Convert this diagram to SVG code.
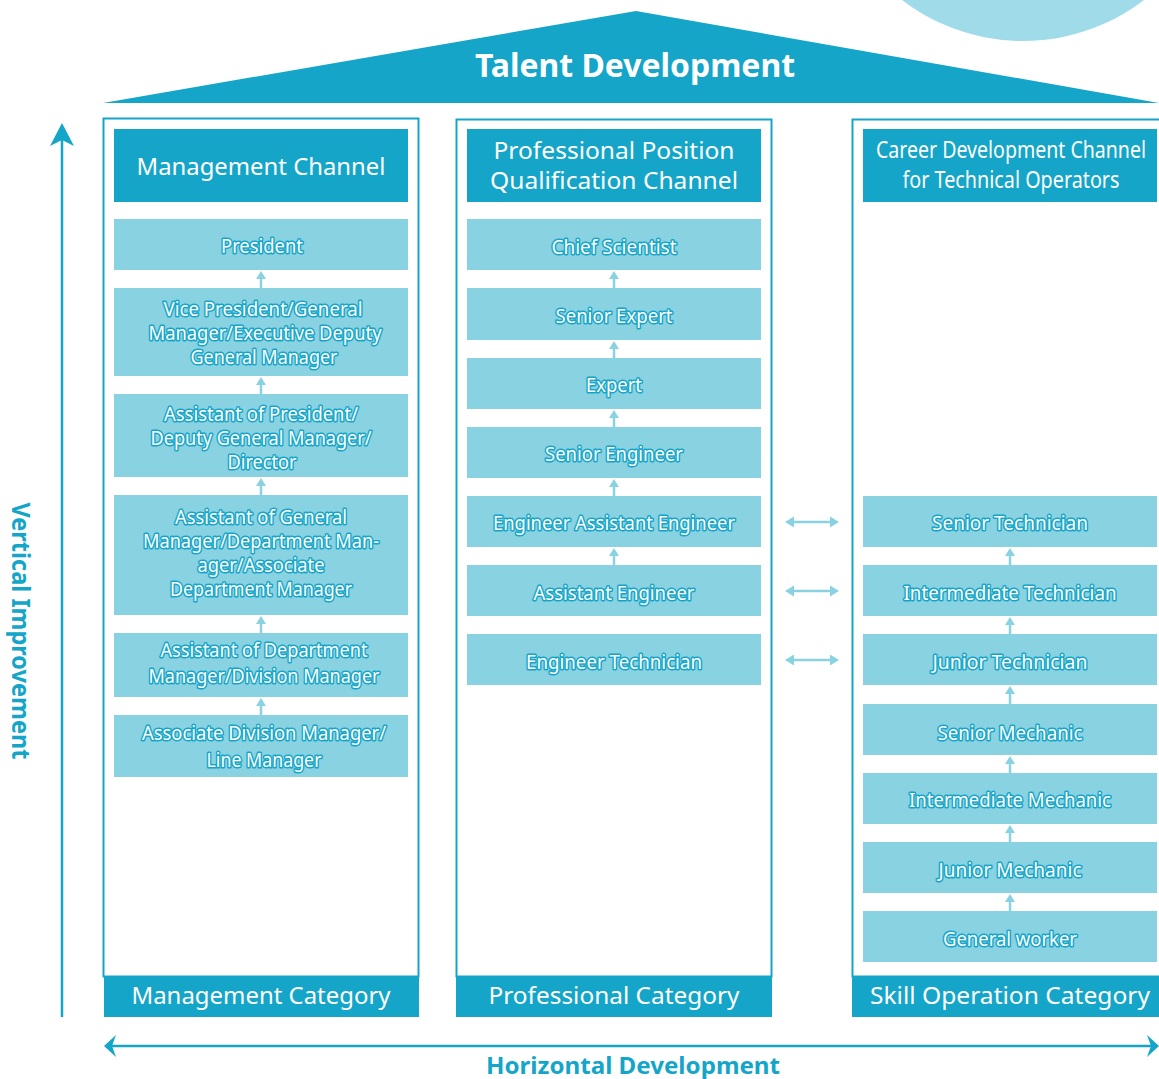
<svg xmlns="http://www.w3.org/2000/svg" width="1159" height="1079" viewBox="0 0 1159 1079">
<style>
.dark{fill:#14a5c8}
.light{fill:#88d2e2}
.col{fill:none;stroke:#14a5c8;stroke-width:2}
.hdr{font-family:"Noto Sans","Open Sans",sans-serif;fill:#fff;text-anchor:middle;font-size:24px}
.lbl{font-family:"Noto Sans","Open Sans",sans-serif;fill:#fff;stroke:#14a5c8;stroke-width:3;paint-order:stroke;stroke-linejoin:round;text-anchor:middle;font-size:19px}
.big{font-family:"Noto Sans","Open Sans",sans-serif;font-weight:bold;text-anchor:middle}
.up{stroke:#88d2e2;stroke-width:2.5;fill:none}
.uph{fill:#88d2e2}
</style>

<circle cx="1023" cy="-158" r="199" fill="#9fdbe8"/>

<g id="roof">
<polygon points="103,103 636,11 1159,103" class="dark"/>
<text x="635" y="77" class="big" font-size="32" fill="#fff" textLength="320" lengthAdjust="spacingAndGlyphs">Talent Development</text>
</g>

<g id="axes">
<line x1="62" y1="1017" x2="62" y2="140" stroke="#14a5c8" stroke-width="2.5"/>
<path d="M62,123 L74,146 L62,140 L50,146 Z" class="dark"/>
<line x1="112" y1="1046" x2="1152" y2="1046" stroke="#14a5c8" stroke-width="2.5"/>
<path d="M104,1046 L116,1035 L112,1046 L116,1057 Z" class="dark"/>
<path d="M1159,1046 L1147,1035 L1151,1046 L1147,1057 Z" class="dark"/>
<text x="633" y="1074" class="big" font-size="24" fill="#14a5c8" textLength="294" lengthAdjust="spacingAndGlyphs">Horizontal Development</text>
<text transform="translate(12,631) rotate(90)" x="0" y="0" class="big" font-size="25" fill="#14a5c8" textLength="257" lengthAdjust="spacingAndGlyphs">Vertical Improvement</text>
</g>

<!-- Column 1 -->
<g id="col-management">
<rect x="103.5" y="118.5" width="315" height="858" class="col"/>
<rect x="104" y="977" width="315" height="40" class="dark"/>
<text x="261" y="1004" class="hdr" textLength="259" lengthAdjust="spacingAndGlyphs">Management Category</text>
<rect x="114" y="129" width="294" height="73" class="dark"/>
<text x="261" y="175" class="hdr" font-size="25" textLength="249" lengthAdjust="spacingAndGlyphs">Management Channel</text>
</g>
<g id="m1"><rect x="114" y="219" width="294" height="51" class="light"/><text x="262" y="253" class="lbl" textLength="82" lengthAdjust="spacingAndGlyphs">President</text></g>
<g id="m2"><rect x="114" y="288" width="294" height="88" class="light"/>
<text x="263" y="316" class="lbl" textLength="199" lengthAdjust="spacingAndGlyphs">Vice President/General</text>
<text x="265" y="340" class="lbl" textLength="233" lengthAdjust="spacingAndGlyphs">Manager/Executive Deputy</text>
<text x="264" y="364" class="lbl" textLength="147" lengthAdjust="spacingAndGlyphs">General Manager</text></g>
<g id="m3"><rect x="114" y="394" width="294" height="83" class="light"/>
<text x="261" y="421" class="lbl" textLength="194" lengthAdjust="spacingAndGlyphs">Assistant of President/</text>
<text x="261" y="445" class="lbl" textLength="221" lengthAdjust="spacingAndGlyphs">Deputy General Manager/</text>
<text x="262" y="469" class="lbl" textLength="69" lengthAdjust="spacingAndGlyphs">Director</text></g>
<g id="m4"><rect x="114" y="495" width="294" height="120" class="light"/>
<text x="261" y="524" class="lbl" textLength="172" lengthAdjust="spacingAndGlyphs">Assistant of General</text>
<text x="261" y="548" class="lbl" textLength="236" lengthAdjust="spacingAndGlyphs">Manager/Department Man-</text>
<text x="261" y="572" class="lbl" textLength="127" lengthAdjust="spacingAndGlyphs">ager/Associate</text>
<text x="261" y="596" class="lbl" textLength="182" lengthAdjust="spacingAndGlyphs">Department Manager</text></g>
<g id="m5"><rect x="114" y="633" width="294" height="64" class="light"/>
<text x="264" y="657" class="lbl" textLength="207" lengthAdjust="spacingAndGlyphs">Assistant of Department</text>
<text x="264" y="683" class="lbl" textLength="231" lengthAdjust="spacingAndGlyphs">Manager/Division Manager</text></g>
<g id="m6"><rect x="114" y="715" width="294" height="62" class="light"/>
<text x="264" y="740" class="lbl" textLength="244" lengthAdjust="spacingAndGlyphs">Associate Division Manager/</text>
<text x="264" y="767" class="lbl" textLength="115" lengthAdjust="spacingAndGlyphs">Line Manager</text></g>

<!-- Column 2 -->
<g id="col-professional">
<rect x="456.5" y="119.5" width="315" height="857" class="col"/>
<rect x="456" y="977" width="316" height="40" class="dark"/>
<text x="614" y="1004" class="hdr" textLength="251" lengthAdjust="spacingAndGlyphs">Professional Category</text>
<rect x="467" y="129" width="294" height="73" class="dark"/>
<text x="614" y="159" class="hdr" font-size="23" textLength="241" lengthAdjust="spacingAndGlyphs">Professional Position</text>
<text x="614" y="189" class="hdr" font-size="23" textLength="248" lengthAdjust="spacingAndGlyphs">Qualification Channel</text>
</g>
<g id="p1"><rect x="467" y="219" width="294" height="51" class="light"/><text x="614" y="254" class="lbl" textLength="125" lengthAdjust="spacingAndGlyphs">Chief Scientist</text></g>
<g id="p2"><rect x="467" y="288" width="294" height="52" class="light"/><text x="614" y="323" class="lbl" textLength="117" lengthAdjust="spacingAndGlyphs">Senior Expert</text></g>
<g id="p3"><rect x="467" y="358" width="294" height="51" class="light"/><text x="614" y="392" class="lbl" textLength="56" lengthAdjust="spacingAndGlyphs">Expert</text></g>
<g id="p4"><rect x="467" y="427" width="294" height="51" class="light"/><text x="614" y="461" class="lbl" textLength="138" lengthAdjust="spacingAndGlyphs">Senior Engineer</text></g>
<g id="p5"><rect x="467" y="496" width="294" height="51" class="light"/><text x="614" y="530" class="lbl" textLength="242" lengthAdjust="spacingAndGlyphs">Engineer Assistant Engineer</text></g>
<g id="p6"><rect x="467" y="565" width="294" height="51" class="light"/><text x="614" y="600" class="lbl" textLength="161" lengthAdjust="spacingAndGlyphs">Assistant Engineer</text></g>
<g id="p7"><rect x="467" y="634" width="294" height="51" class="light"/><text x="614" y="669" class="lbl" textLength="176" lengthAdjust="spacingAndGlyphs">Engineer Technician</text></g>

<!-- Column 3 -->
<g id="col-skill">
<path d="M1160,119.5 H852.5 V976.5 H1160" class="col"/>
<rect x="852" y="977" width="307" height="40" class="dark"/>
<text x="1010" y="1004" class="hdr" textLength="280" lengthAdjust="spacingAndGlyphs">Skill Operation Category</text>
<rect x="863" y="129" width="294" height="73" class="dark"/>
<text x="1011" y="158" class="hdr" font-size="20" textLength="270" lengthAdjust="spacingAndGlyphs">Career Development Channel</text>
<text x="1011" y="188" class="hdr" font-size="20" textLength="217" lengthAdjust="spacingAndGlyphs">for Technical Operators</text>
</g>
<g id="s1"><rect x="863" y="496" width="294" height="51" class="light"/><text x="1010" y="530" class="lbl" textLength="156" lengthAdjust="spacingAndGlyphs">Senior Technician</text></g>
<g id="s2"><rect x="863" y="565" width="294" height="51" class="light"/><text x="1010" y="600" class="lbl" textLength="213" lengthAdjust="spacingAndGlyphs">Intermediate Technician</text></g>
<g id="s3"><rect x="863" y="634" width="294" height="51" class="light"/><text x="1010" y="669" class="lbl" textLength="155" lengthAdjust="spacingAndGlyphs">Junior Technician</text></g>
<g id="s4"><rect x="863" y="704" width="294" height="51" class="light"/><text x="1010" y="740" class="lbl" textLength="145" lengthAdjust="spacingAndGlyphs">Senior Mechanic</text></g>
<g id="s5"><rect x="863" y="773" width="294" height="51" class="light"/><text x="1010" y="807" class="lbl" textLength="202" lengthAdjust="spacingAndGlyphs">Intermediate Mechanic</text></g>
<g id="s6"><rect x="863" y="842" width="294" height="51" class="light"/><text x="1010" y="877" class="lbl" textLength="143" lengthAdjust="spacingAndGlyphs">Junior Mechanic</text></g>
<g id="s7"><rect x="863" y="911" width="294" height="51" class="light"/><text x="1010" y="946" class="lbl" textLength="134" lengthAdjust="spacingAndGlyphs">General worker</text></g>

<g id="connectors">
<g class="uph">
<path d="M261,271 L266,279 L256,279 Z"/><path d="M261,377 L266,385 L256,385 Z"/><path d="M261,478 L266,486 L256,486 Z"/><path d="M261,616 L266,624 L256,624 Z"/><path d="M261,698 L266,706 L256,706 Z"/>
<path d="M614,271 L619,279 L609,279 Z"/><path d="M614,341 L619,349 L609,349 Z"/><path d="M614,410 L619,418 L609,418 Z"/><path d="M614,479 L619,487 L609,487 Z"/><path d="M614,548 L619,556 L609,556 Z"/>
<path d="M1010,548 L1015,556 L1005,556 Z"/><path d="M1010,617 L1015,625 L1005,625 Z"/><path d="M1010,686 L1015,694 L1005,694 Z"/><path d="M1010,756 L1015,764 L1005,764 Z"/><path d="M1010,825 L1015,833 L1005,833 Z"/><path d="M1010,894 L1015,902 L1005,902 Z"/>
</g>
<g class="up">
<line x1="261" y1="278" x2="261" y2="288"/><line x1="261" y1="384" x2="261" y2="394"/><line x1="261" y1="485" x2="261" y2="495"/><line x1="261" y1="623" x2="261" y2="633"/><line x1="261" y1="705" x2="261" y2="715"/>
<line x1="614" y1="278" x2="614" y2="288"/><line x1="614" y1="348" x2="614" y2="358"/><line x1="614" y1="417" x2="614" y2="427"/><line x1="614" y1="486" x2="614" y2="496"/><line x1="614" y1="555" x2="614" y2="565"/>
<line x1="1010" y1="555" x2="1010" y2="565"/><line x1="1010" y1="624" x2="1010" y2="634"/><line x1="1010" y1="693" x2="1010" y2="704"/><line x1="1010" y1="763" x2="1010" y2="773"/><line x1="1010" y1="832" x2="1010" y2="842"/><line x1="1010" y1="901" x2="1010" y2="911"/>
</g>
<g class="up">
<line x1="791" y1="522" x2="833" y2="522"/>
<line x1="791" y1="591" x2="833" y2="591"/>
<line x1="791" y1="660" x2="833" y2="660"/>
</g>
<g class="uph">
<path d="M785,522 L794,516.5 L794,527.5 Z"/><path d="M839,522 L830,516.5 L830,527.5 Z"/>
<path d="M785,591 L794,585.5 L794,596.5 Z"/><path d="M839,591 L830,585.5 L830,596.5 Z"/>
<path d="M785,660 L794,654.5 L794,665.5 Z"/><path d="M839,660 L830,654.5 L830,665.5 Z"/>
</g>
</g>
</svg>
